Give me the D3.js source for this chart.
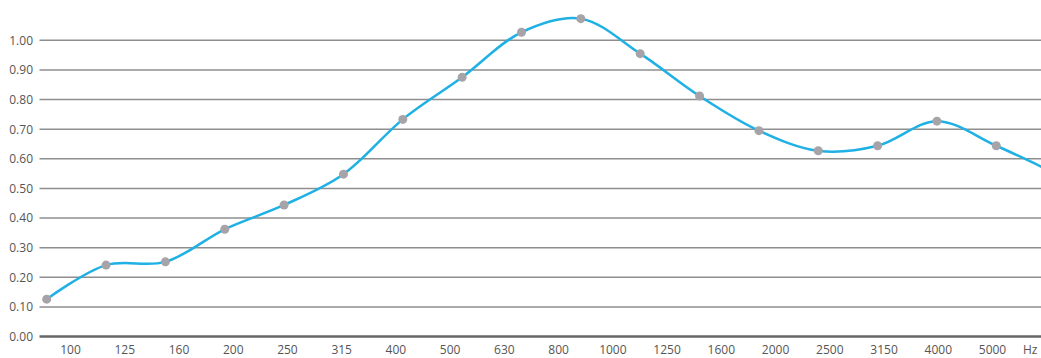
<!DOCTYPE html>
<html>
<head>
<meta charset="utf-8">
<script src="https://cdn.jsdelivr.net/npm/d3@7"></script>
<style>
  html, body { margin: 0; padding: 0; background: #fff; }
  svg { display: block; }
  text { font-family: "Open Sans", "Noto Sans", sans-serif; }
</style>
</head>
<body>
<svg id="chart" width="1041" height="358"></svg>
<script>
// Frequency band labels (x axis)
const freqLabels = ["100","125","160","200","250","315","400","500","630","800","1000","1250","1600","2000","2500","3150","4000","5000"];
const unitLabel = "Hz";
// Y tick values
const yTicks = [0,0.1,0.2,0.3,0.4,0.5,0.6,0.7,0.8,0.9,1.0];
// Measured absorption values (last one lies beyond the visible area)
const values = [0.126,0.241,0.252,0.362,0.444,0.548,0.733,0.875,1.027,1.073,0.955,0.812,0.695,0.627,0.644,0.727,0.644,0.55];

const W = 1041, H = 358;
const svg = d3.select("#chart");

const y = d3.scaleLinear().domain([0, 1]).range([336.5, 40.3]);
const xLabel = d3.scalePoint().domain(freqLabels).range([70, 992]);
const xPt = d3.scaleLinear().domain([0, 16]).range([46.7, 996.3]);

// gridlines
svg.append("g").selectAll("line")
  .data(yTicks)
  .join("line")
  .attr("x1", 39.5).attr("x2", W)
  .attr("y1", d => y(d)).attr("y2", d => y(d))
  .attr("stroke", d => d === 0 ? "#666" : "#8e8e8e")
  .attr("stroke-width", d => d === 0 ? 2.4 : 1.5);

// y labels
const yAxis = d3.axisLeft(y).tickValues(yTicks).tickFormat(d3.format(".2f")).tickSize(0).tickPadding(0);
const gy = svg.append("g").attr("transform", "translate(33,0)").call(yAxis);
gy.select(".domain").remove();
gy.selectAll("text").attr("fill", "#555").style("font-size", "12px").attr("dy", "0.32em");

// x labels (baseline at y = 354)
const xAxis = d3.axisBottom(xLabel).tickSize(0).tickPadding(0);
const gx = svg.append("g").attr("transform", "translate(0,354)").call(xAxis);
gx.select(".domain").remove();
gx.selectAll("text").attr("fill", "#555").style("font-size", "12px").attr("y", 0).attr("dy", 0);

svg.append("text")
  .attr("x", 1023).attr("y", 354)
  .attr("fill", "#555").style("font-size", "12px")
  .text(unitLabel);

// line
const line = d3.line()
  .x((d, i) => xPt(i))
  .y(d => y(d))
  .curve(d3.curveCatmullRom.alpha(0.5));

svg.append("path")
  .datum(values)
  .attr("d", line)
  .attr("fill", "none")
  .attr("stroke", "#1fb0e4")
  .attr("stroke-width", 2.5);

// dots
svg.append("g").selectAll("circle")
  .data(values)
  .join("circle")
  .attr("cx", (d, i) => xPt(i))
  .attr("cy", d => y(d))
  .attr("r", 4.5)
  .attr("fill", "#a6a4a9");
</script>
</body>
</html>
